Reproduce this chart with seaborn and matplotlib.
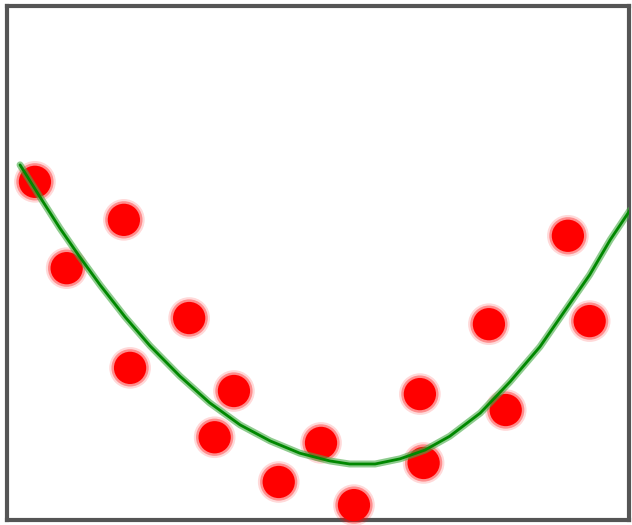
import seaborn as sns
import matplotlib.pyplot as plt
import pandas as pd

# scattered points
dot_x = [0.45, 0.96, 1.88, 1.98, 2.93, 3.65, 3.34, 4.37, 5.05, 5.58, 6.64, 6.70, 7.75, 8.02, 9.02, 9.37]
dot_y = [6.58, 4.90, 5.84, 2.96, 3.93, 2.51, 1.61, 0.74, 1.50, 0.29, 2.45, 1.11, 3.81, 2.14, 5.53, 3.87]

# fitted curve
fit_x = [0.21, 0.56, 0.85, 1.17, 1.50, 1.90, 2.30, 2.78, 3.26, 3.75, 4.23, 4.71, 5.19,
         5.51, 5.92, 6.32, 6.72, 7.12, 7.61, 8.09, 8.57, 8.97, 9.37, 9.70, 10.02]
fit_y = [6.91, 6.23, 5.68, 5.12, 4.57, 3.95, 3.39, 2.80, 2.28, 1.85, 1.54, 1.30, 1.15,
         1.09, 1.09, 1.19, 1.36, 1.63, 2.08, 2.69, 3.37, 4.07, 4.77, 5.45, 6.03]

dots = pd.DataFrame({'x': dot_x, 'y': dot_y})
fit = pd.DataFrame({'x': fit_x, 'y': fit_y})

sns.set_style('white')
fig = plt.figure(figsize=(6.32, 5.25), dpi=100)
ax = fig.add_axes([0.011, 0.0095, 0.984, 0.979])

# soft red dots: faint halos then solid core
sns.scatterplot(data=dots, x='x', y='y', ax=ax, s=900, color='#ff0000', alpha=0.15,
                edgecolor='none', zorder=3, clip_on=False)
sns.scatterplot(data=dots, x='x', y='y', ax=ax, s=720, color='#ff0000', alpha=0.35,
                edgecolor='none', zorder=3, clip_on=False)
sns.scatterplot(data=dots, x='x', y='y', ax=ax, s=540, color='#ff0000',
                edgecolor='none', zorder=4, clip_on=False)

# green line with lighter glow
sns.lineplot(data=fit, x='x', y='y', ax=ax, sort=False, color='#44aa44', alpha=0.6,
             linewidth=5, zorder=5, solid_joinstyle='round', solid_capstyle='round')
sns.lineplot(data=fit, x='x', y='y', ax=ax, sort=False, color='#008800',
             linewidth=2, zorder=6, solid_joinstyle='round', solid_capstyle='round')

ax.set_xlim(0, 10)
ax.set_ylim(0, 10)
ax.set_xticks([])
ax.set_yticks([])
ax.set_xlabel('')
ax.set_ylabel('')
for sp in ax.spines.values():
    sp.set_color('#555555')
    sp.set_linewidth(3)
    sp.set_zorder(2)

fig.savefig('out.png', dpi=100)
